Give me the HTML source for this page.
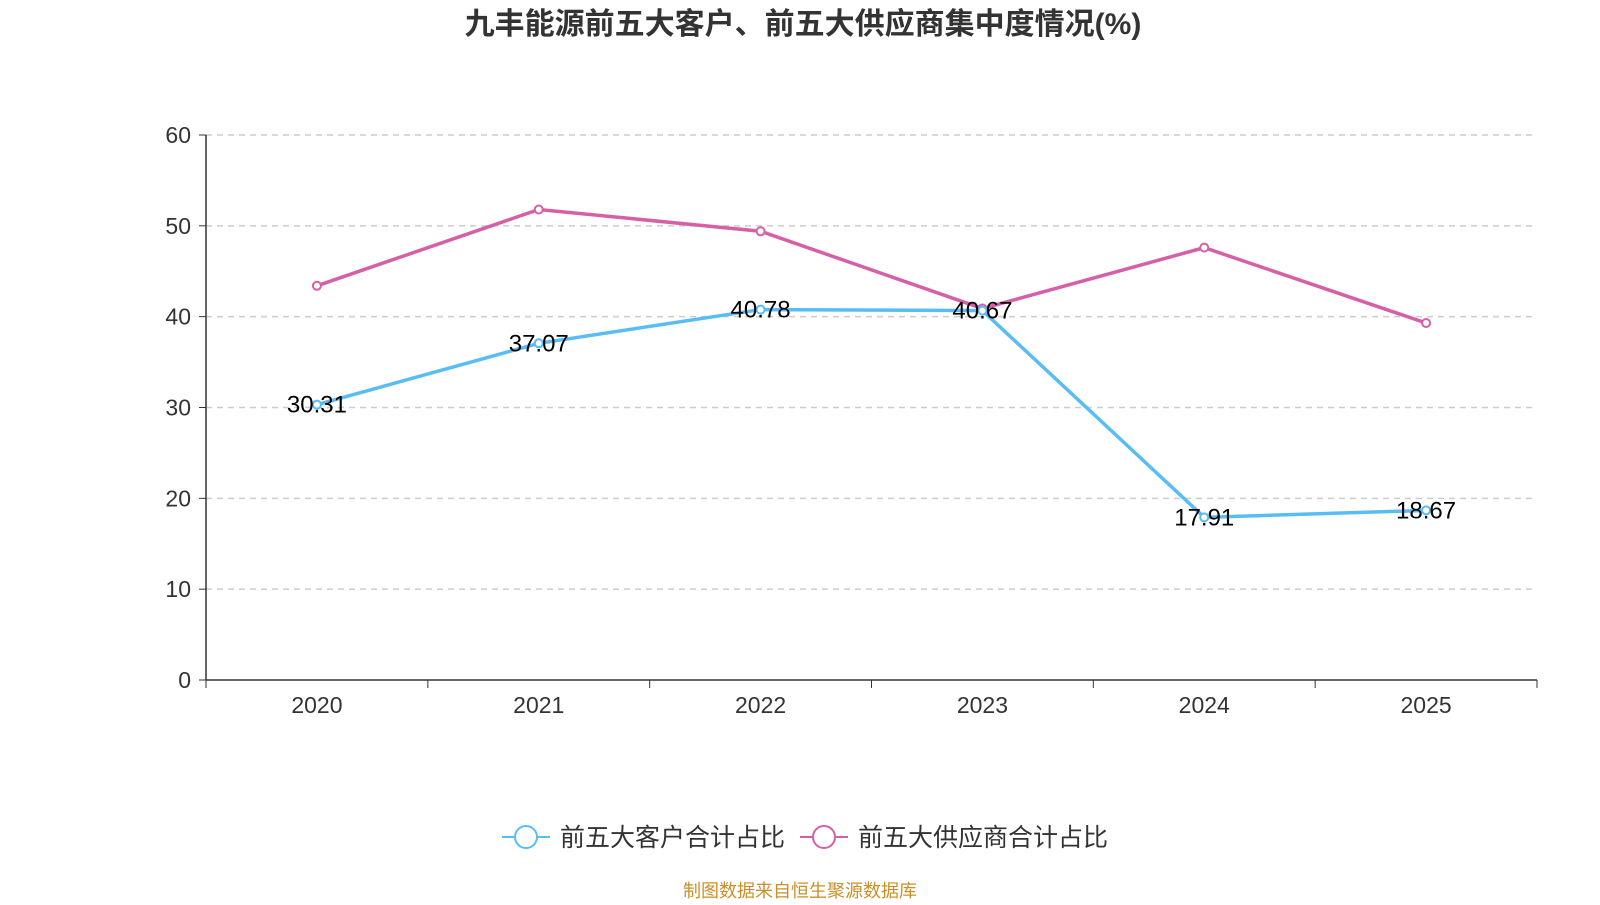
<!DOCTYPE html>
<html><head><meta charset="utf-8"><style>
body{margin:0;background:#fff;width:1600px;height:900px;overflow:hidden;font-family:"Liberation Sans","Noto Sans CJK SC",sans-serif;}
</style></head><body>
<svg id="chart" width="1600" height="900" xmlns="http://www.w3.org/2000/svg">
<text x="803" y="34" text-anchor="middle" font-size="30" font-weight="bold" fill="#333" font-family="Liberation Sans, Noto Sans CJK SC, sans-serif">九丰能源前五大客户、前五大供应商集中度情况(%)</text>
<g id="grid"></g><g id="axes"></g><g id="series"></g>
<g>
<g>
<line x1="502" y1="837" x2="550" y2="837" stroke="#58bdf5" stroke-width="2"/>
<circle cx="526" cy="837" r="11" fill="#fff" stroke="#58bdf5" stroke-width="2"/>
<text x="560" y="846" font-size="25" fill="#333">前五大客户合计占比</text></g>
<g>
<line x1="800" y1="837" x2="848" y2="837" stroke="#d660a8" stroke-width="2"/>
<circle cx="824" cy="837" r="11" fill="#fff" stroke="#d660a8" stroke-width="2"/>
<text x="858" y="846" font-size="25" fill="#333">前五大供应商合计占比</text></g>
</g>
<text x="800" y="897" text-anchor="middle" font-size="18" fill="#c8902a">制图数据来自恒生聚源数据库</text>
</svg>
<script>
const categories=["2020","2021","2022","2023","2024","2025"];
const customers=[30.31,37.07,40.78,40.67,17.91,18.67];
const suppliers=[43.4,51.8,49.4,40.9,47.6,39.3];
const yTicks=[0,10,20,30,40,50,60];
const NS="http://www.w3.org/2000/svg";
const x0=206,x1=1537,yb=680,yt=135,ymax=60;
const bw=(x1-x0)/categories.length;
const X=i=>x0+bw*(i+0.5);
const Y=v=>yb-(v/ymax)*(yb-yt);
function mk(t,a,p){const e=document.createElementNS(NS,t);for(const k in a)e.setAttribute(k,a[k]);p.appendChild(e);return e;}
const grid=document.getElementById('grid'),axes=document.getElementById('axes'),ser=document.getElementById('series');
yTicks.forEach(v=>{
 if(v>0){const g=mk('line',{x1:x0,x2:x1,y1:Y(v),y2:Y(v),stroke:'#ccc','stroke-dasharray':'6,5','stroke-width':1.5},grid);
 
 }
 const tk=mk('line',{x1:x0-7,x2:x0,y1:Y(v),y2:Y(v),stroke:'#333'},axes);
 
 
 const t=mk('text',{x:x0-15,y:Y(v)+8,'text-anchor':'end','font-size':23,fill:'#333'},axes);t.textContent=v;
 
 
});
const ya=mk('line',{x1:x0,x2:x0,y1:yt,y2:yb,stroke:'#333','stroke-width':1.5},axes);


const xa=mk('line',{x1:x0,x2:x1,y1:yb,y2:yb,stroke:'#333','stroke-width':1.5},axes);


for(let i=0;i<=categories.length;i++){const tk=mk('line',{x1:x0+bw*i,x2:x0+bw*i,y1:yb,y2:yb+8,stroke:'#333'},axes);
 
 }
categories.forEach((c,i)=>{const t=mk('text',{x:X(i),y:yb+33,'text-anchor':'middle','font-size':23,fill:'#333'},axes);t.textContent=c;
 
 });
function series(vals,color,name,labels){
 const p=mk('polyline',{points:vals.map((v,i)=>X(i)+','+Y(v)).join(' '),fill:'none',stroke:color,'stroke-width':3.5},ser);
 
 
 vals.forEach((v,i)=>{const c=mk('circle',{cx:X(i),cy:Y(v),r:4,fill:'#fff',stroke:color,'stroke-width':2},ser);
  
  
  if(labels){const t=mk('text',{x:X(i),y:Y(v)+8,'text-anchor':'middle','font-size':24,fill:'#000'},ser);t.textContent=v.toFixed(2);
   
   }
 });
}
series(suppliers,'#d660a8','suppliers',false);
series(customers,'#58bdf5','customers',true);
</script>
</body></html>
